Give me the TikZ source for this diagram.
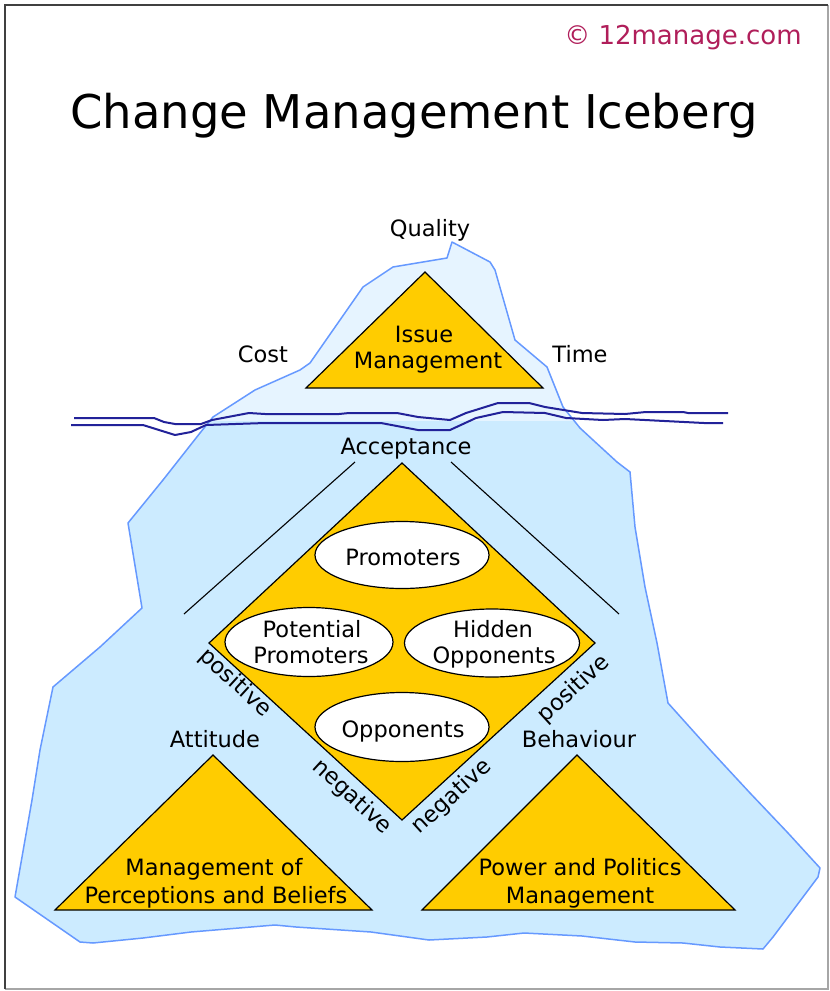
\documentclass[tikz,border=0pt]{standalone}
\usepackage{fontspec}
\setmainfont{DejaVu Sans}
\usetikzlibrary{shapes.geometric}
\definecolor{gold}{RGB}{255,204,0}
\definecolor{icetop}{RGB}{230,244,255}
\definecolor{icebody}{RGB}{204,235,255}
\definecolor{iceline}{RGB}{102,153,255}
\definecolor{water}{RGB}{34,34,153}
\definecolor{copyred}{RGB}{176,30,90}
\tikzset{
  lbl/.style={font=\fontsize{22.5}{27}\selectfont, inner sep=0pt, anchor=base},
  rlbl/.style={font=\fontsize{22.5}{27}\selectfont, inner sep=0pt, anchor=center},
  ellbox/.style={ellipse, draw=black, fill=white, line width=1.2pt, inner sep=0pt},
  tri/.style={draw=black, fill=gold, line width=1.2pt, line join=miter},
  wline/.style={draw=water, line width=2pt, line join=round},
  thinline/.style={draw=black, line width=1.1pt},
  ice/.style={draw=iceline, line width=1.5pt, line join=round}
}
\def\icepath{(213,417) -- (255,390) -- (300,370) -- (310,363) -- (363,287) -- (393,267) -- (447,258) -- (452,242) -- (490,262) -- (495,270) -- (515,340) -- (547,367) -- (563,407) -- (580,428) -- (593,440) -- (617,462) -- (630,472) -- (635,527) -- (645,587) -- (657,643) -- (668,703) -- (712,752) -- (750,793) -- (788,833) -- (820,868) -- (818,877) -- (773,937) -- (763,949) -- (720,947) -- (683,943) -- (635,942) -- (582,936) -- (524,933) -- (487,937) -- (429,940) -- (371,932) -- (296,927) -- (275,925) -- (191,932) -- (143,938) -- (93,943) -- (80,942) -- (15,897) -- (32,800) -- (40,750) -- (53,687) -- (100,647) -- (142,608) -- (128,523) -- (163,480) -- (200,433) -- cycle}
\begin{document}
\begin{tikzpicture}[x=1pt,y=-1pt]
\useasboundingbox (0,0) rectangle (830,991);
\fill[white] (0,0) rectangle (830,991);
% frame
\draw[black!35, line width=1.5pt] (828,5) -- (828,989) -- (5,989);
\draw[black!75, line width=2pt] (5,989) -- (5,5) -- (828,5);
% iceberg
\fill[icetop] \icepath;
\begin{scope}
  \clip \icepath;
  \fill[icebody] (0,421) rectangle (830,991);
\end{scope}
\draw[ice] \icepath;
% waterline
\draw[wline] (74,418) -- (154,418) -- (164,422) -- (175,424) -- (201,424) -- (212,420) -- (249,413) -- (265,414) -- (339,414) -- (349,413) -- (397,413) -- (418,417) -- (450,420) -- (466,413) -- (498,403) -- (529,403) -- (545,407) -- (582,413) -- (625,414) -- (646,412) -- (683,412) -- (688,413) -- (728,413);
\draw[wline] (71,425) -- (143,425) -- (159,430) -- (175,435) -- (191,432) -- (206,425) -- (265,423) -- (344,423) -- (381,423) -- (418,430) -- (450,430) -- (476,418) -- (503,412) -- (545,413) -- (566,418) -- (603,420) -- (625,419) -- (704,423) -- (723,423);
% triangles
\coordinate (tA) at (425,272); \coordinate (tL) at (306,388); \coordinate (tR) at (543,388);
\draw[tri] (tA) -- (tR) -- (tL) -- cycle;
\coordinate (lA) at (213,755); \coordinate (lL) at (55,910); \coordinate (lR) at (372,910);
\draw[tri] (lA) -- (lR) -- (lL) -- cycle;
\coordinate (rA) at (577,755); \coordinate (rL) at (422,910); \coordinate (rR) at (735,910);
\draw[tri] (rA) -- (rR) -- (rL) -- cycle;
% diamond
\coordinate (dT) at (402,463); \coordinate (dR) at (595,643); \coordinate (dB) at (402,820); \coordinate (dL) at (209,643);
\draw[tri] (dT) -- (dR) -- (dB) -- (dL) -- cycle;
% acceptance lines
\coordinate (a1) at (355,462); \coordinate (a2) at (184,614);
\coordinate (b1) at (451,462); \coordinate (b2) at (619,614);
\draw[thinline] (a1) -- (a2);
\draw[thinline] (b1) -- (b2);
% ellipses
\node[ellbox, minimum width=174pt, minimum height=67pt] (eprom) at (402,555) {};
\node[ellbox, minimum width=168pt, minimum height=69pt] (epot) at (309,642) {};
\node[ellbox, minimum width=175pt, minimum height=68pt] (ehid) at (492,643) {};
\node[ellbox, minimum width=174pt, minimum height=69pt] (eopp) at (402,727) {};
% texts
\node[font=\fontsize{46.5}{50}\selectfont, inner sep=0pt, anchor=base] (title) at (414,128) {Change Management Iceberg};
\node[font=\fontsize{26}{30}\selectfont, text=copyred, inner sep=0pt, anchor=base] (copy) at (683,44) {© 12manage.com};
\node[lbl] (quality) at (430,236) {Quality};
\node[lbl] (cost) at (263,362) {Cost};
\node[lbl] (time) at (580,362) {Time};
\node[lbl] (issue1) at (424,342) {Issue};
\node[lbl] (issue2) at (428,368) {Management};
\node[lbl] (accept) at (406,454) {Acceptance};
\node[lbl] (tprom) at (403,565) {Promoters};
\node[lbl] (tpot1) at (312,637) {Potential};
\node[lbl] (tpot2) at (311,663) {Promoters};
\node[lbl] (thid1) at (493,637) {Hidden};
\node[lbl] (thid2) at (494,663) {Opponents};
\node[lbl] (topp) at (403,737) {Opponents};
\node[lbl] (attitude) at (215,747) {Attitude};
\node[lbl] (behav) at (579,747) {Behaviour};
\node[lbl] (perc1) at (214,875) {Management of};
\node[lbl] (perc2) at (216,903) {Perceptions and Beliefs};
\node[lbl] (pow1) at (580,875) {Power and Politics};
\node[lbl] (pow2) at (580,903) {Management};
\node[rlbl, rotate=-42.5] (posL) at (235,683) {positive};
\node[rlbl, rotate=-42.5] (negL) at (352,797) {negative};
\node[rlbl, rotate=42.5] (posR) at (574,689) {positive};
\node[rlbl, rotate=42.5] (negR) at (452,797) {negative};
\end{tikzpicture}
\end{document}
